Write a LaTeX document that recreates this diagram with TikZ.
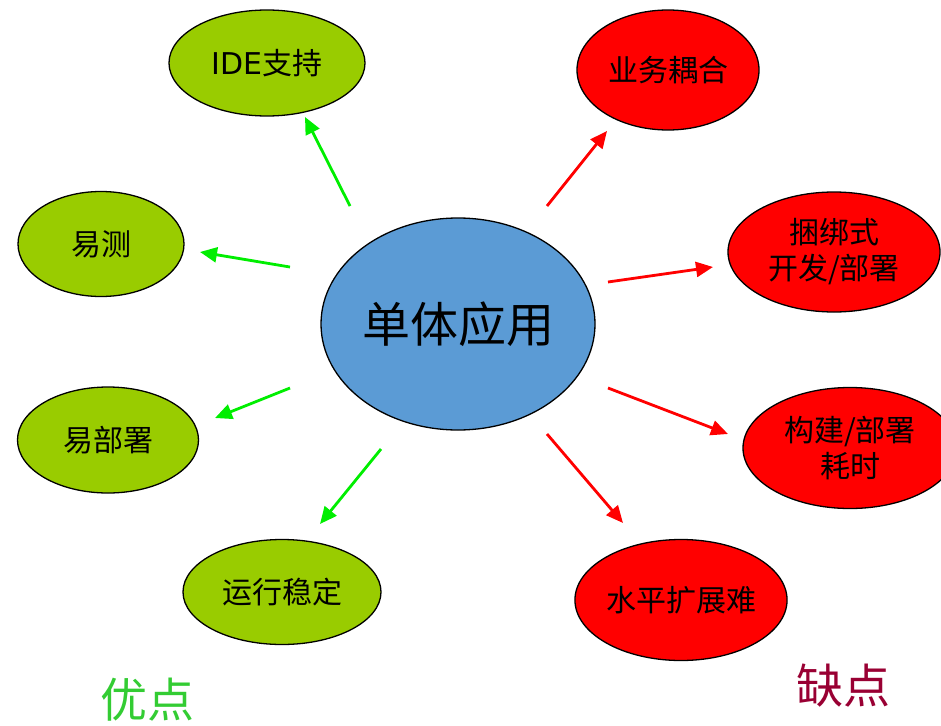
\documentclass[tikz,border=0pt]{standalone}
\usepackage{fontspec}
\setmainfont{Noto Sans CJK SC}
\newfontfamily\latinfont{DejaVu Sans}
\usetikzlibrary{shapes.geometric,arrows.meta}
\definecolor{goodfill}{HTML}{99CC00}
\definecolor{badfill}{HTML}{FF0000}
\definecolor{hubfill}{HTML}{5B9BD5}
\definecolor{goodarrow}{HTML}{00EE00}
\definecolor{badarrow}{HTML}{FF0000}
\definecolor{goodlabel}{HTML}{33CC33}
\definecolor{badlabel}{HTML}{990033}
\tikzset{
  bubble/.style={ellipse, draw=black, line width=1.3pt, inner sep=0pt, align=center,
    font=\fontsize{30}{36}\selectfont},
  good/.style={bubble, fill=goodfill},
  bad/.style={bubble, fill=badfill},
  hub/.style={ellipse, draw=black, line width=1.3pt, fill=hubfill, inner sep=0pt,
    minimum width=274pt, minimum height=212pt, font=\fontsize{48}{52}\selectfont},
  goodlink/.style={draw=goodarrow, line width=2.8pt, -{Triangle[length=17pt,width=15pt]}},
  badlink/.style={draw=badarrow, line width=2.8pt, -{Triangle[length=17pt,width=15pt]}},
  caption/.style={font=\fontsize{47}{50}\selectfont}
}
\begin{document}
\begin{tikzpicture}[x=1pt,y=-1pt]
\useasboundingbox (0,0) rectangle (941,725);
\clip (0,0) rectangle (941,725);
% hub
\node[hub] (hub) at (458,324) {单体应用};
% advantages
\node[good, minimum width=196pt, minimum height=106pt] (ide) at (267,63) {{\latinfont IDE}支持};
\node[good, minimum width=166pt, minimum height=105pt] (test) at (101,244) {易测};
\node[good, minimum width=181pt, minimum height=106pt] (deploy) at (108,440) {易部署};
\node[good, minimum width=198pt, minimum height=105pt] (stable) at (282,592) {运行稳定};
% disadvantages
\node[bad, minimum width=182pt, minimum height=120pt] (couple) at (668,70) {业务耦合};
\node[bad, minimum width=212pt, minimum height=120pt] (bundle) at (834,252) {捆绑式\\开发/部署};
\node[bad, minimum width=214pt, minimum height=121pt] (build) at (850,448) {构建/部署\\耗时};
\node[bad, minimum width=212pt, minimum height=121pt] (scale) at (681,600) {水平扩展难};
% captions
\node[caption, text=goodlabel] (pros) at (147,700) {优点};
\node[caption, text=badlabel] (cons) at (843,686) {缺点};
% arrow end points
\coordinate (g1s) at (350,206); \coordinate (g1e) at (305,117);
\coordinate (g2s) at (290,267); \coordinate (g2e) at (200,252);
\coordinate (g3s) at (290,388); \coordinate (g3e) at (215,418);
\coordinate (g4s) at (381,449); \coordinate (g4e) at (320,524);
\coordinate (r1s) at (547,206); \coordinate (r1e) at (607,131);
\coordinate (r2s) at (608,282); \coordinate (r2e) at (713,267);
\coordinate (r3s) at (608,388); \coordinate (r3e) at (728,434);
\coordinate (r4s) at (547,434); \coordinate (r4e) at (623,523);
\draw[goodlink] (g1s) -- (g1e);
\draw[goodlink] (g2s) -- (g2e);
\draw[goodlink] (g3s) -- (g3e);
\draw[goodlink] (g4s) -- (g4e);
\draw[badlink] (r1s) -- (r1e);
\draw[badlink] (r2s) -- (r2e);
\draw[badlink] (r3s) -- (r3e);
\draw[badlink] (r4s) -- (r4e);
\end{tikzpicture}
\end{document}
